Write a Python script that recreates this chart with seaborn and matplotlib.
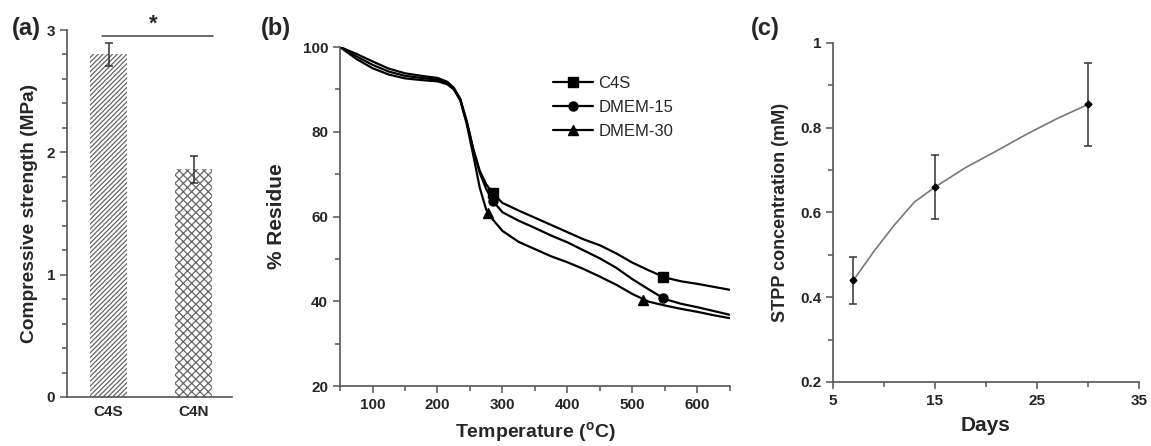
import numpy as np
import pandas as pd
import matplotlib
matplotlib.use("Agg")
import matplotlib.pyplot as plt
from matplotlib.lines import Line2D
from matplotlib.ticker import MultipleLocator
import seaborn as sns

# (a) compressive strength
samples = ["C4S", "C4N"]
strength = [2.80, 1.86]
strength_err = [0.095, 0.11]
hatches = ["///////", "xxxx"]
a_yticks = [0, 1, 2, 3]

# (b) TGA curves
temp = [50, 75, 100, 125, 150, 175, 200, 215, 225, 235, 245, 255, 265, 275, 285,
        300, 325, 350, 375, 400, 425, 450, 475, 500, 525, 550, 575, 600, 625, 650]
res_c4s = [100, 98.4, 96.6, 94.9, 93.8, 93.2, 92.7, 91.8, 90.4, 87.8, 82.5, 76.0, 70.8, 67.6, 65.5,
           63.2, 61.4, 59.7, 58.0, 56.3, 54.6, 53.2, 51.3, 49.1, 47.3, 45.6, 44.7, 44.1, 43.4, 42.7]
res_d15 = [100, 97.8, 95.8, 94.2, 93.2, 92.7, 92.3, 91.5, 90.2, 87.6, 82.3, 75.8, 70.3, 66.5, 63.7,
           61.0, 59.0, 57.3, 55.5, 53.9, 52.0, 50.1, 47.9, 45.2, 42.8, 40.5, 39.4, 38.6, 37.7, 36.8]
res_d30 = [100, 97.2, 95.0, 93.5, 92.6, 92.2, 91.9, 91.2, 90.0, 87.4, 81.8, 74.5, 66.8, 61.6, 59.3,
           56.6, 54.0, 52.3, 50.6, 49.2, 47.6, 45.8, 43.9, 41.7, 39.9, 39.0, 38.2, 37.5, 36.7, 36.0]
series_names = ["C4S", "DMEM-15", "DMEM-30"]
series_markers = ["s", "o", "^"]
mark_t = [[285, 547], [286, 547], [278, 516]]
mark_v = [[65.5, 45.8], [63.6, 40.7], [60.8, 40.3]]
b_xticks = [100, 200, 300, 400, 500, 600]
b_yticks = [20, 40, 60, 80, 100]

# (c) STPP release
days = [7, 15, 30]
stpp = [0.44, 0.66, 0.855]
stpp_err = [0.055, 0.075, 0.098]
curve_days = [7, 9, 11, 13, 15, 18, 21, 24, 27, 30]
curve_stpp = [0.44, 0.508, 0.57, 0.625, 0.66, 0.706, 0.745, 0.785, 0.822, 0.855]
c_xticks = [5, 15, 25, 35]
c_yticks = [0.2, 0.4, 0.6, 0.8, 1.0]
c_yticklabels = ["0.2", "0.4", "0.6", "0.8", "1"]

sns.set_style("ticks")
plt.rcParams["font.family"] = ["Liberation Sans", "DejaVu Sans"]
plt.rcParams["hatch.linewidth"] = 0.9
axcol = "#555555"
tick_fs = 11

fig = plt.figure(figsize=(11.51, 4.46), dpi=100)
ax_a = fig.add_axes([0.0582, 0.1099, 0.1434, 0.8228])
ax_b = fig.add_axes([0.2954, 0.1345, 0.3388, 0.7601])
ax_c = fig.add_axes([0.7237, 0.1435, 0.2659, 0.7601])

for ax in (ax_a, ax_b, ax_c):
    sns.despine(ax=ax)
    for s in ("left", "bottom"):
        ax.spines[s].set_color(axcol)
        ax.spines[s].set_linewidth(1.2)
    ax.tick_params(which="both", color=axcol, width=1.1)
    ax.tick_params(which="major", length=5)
    ax.tick_params(which="minor", length=3.5)

# ---- (a)
df_a = pd.DataFrame({"sample": samples, "strength": strength})
sns.barplot(data=df_a, x="sample", y="strength", color="white", width=0.43,
            errorbar=None, ax=ax_a)
for p, h in zip(ax_a.patches, hatches):
    p.set_hatch(h)
    p.set_edgecolor("#666666")
    p.set_linewidth(0)
ax_a.errorbar(range(len(samples)), strength, yerr=strength_err, fmt="none",
              ecolor="#333333", elinewidth=1.1, capsize=3, capthick=1.1)
ax_a.set_xlim(-0.49, 1.45)
ax_a.set_ylim(0, 3)
ax_a.set_xticks(range(len(samples)), labels=samples, fontweight="bold", fontsize=tick_fs)
ax_a.set_yticks(a_yticks, labels=[str(v) for v in a_yticks], fontweight="bold", fontsize=tick_fs)
ax_a.yaxis.set_minor_locator(MultipleLocator(0.2))
ax_a.tick_params(axis="x", length=0, pad=6)
ax_a.set_xlabel("")
ax_a.set_ylabel("Compressive strength (MPa)", fontsize=13.8, fontweight="bold", labelpad=6)
ax_a.plot([-0.076, 1.23], [2.95, 2.95], color="#444444", lw=1.1, clip_on=False)
ax_a.text(0.53, 2.96, "*", ha="center", va="bottom", fontsize=16, fontweight="bold", clip_on=False)

# ---- (b)
handles = []
for name, vals, mk, mt, mv in zip(series_names, [res_c4s, res_d15, res_d30],
                                  series_markers, mark_t, mark_v):
    sns.lineplot(x=temp, y=vals, color="black", lw=1.6, ax=ax_b, legend=False)
    ax_b.plot(mt, mv, ls="none", marker=mk, color="black", ms=6.5)
    handles.append(Line2D([], [], color="black", lw=1.6, marker=mk, ms=6.5, label=name))
ax_b.set_xlim(50, 650)
ax_b.set_ylim(20, 100)
ax_b.set_xticks(b_xticks, labels=[str(v) for v in b_xticks], fontweight="bold", fontsize=tick_fs)
ax_b.set_yticks(b_yticks, labels=[str(v) for v in b_yticks], fontweight="bold", fontsize=tick_fs)
ax_b.xaxis.set_minor_locator(MultipleLocator(50))
ax_b.yaxis.set_minor_locator(MultipleLocator(10))
ax_b.set_xlabel(r"Temperature ($^\mathregular{o}$C)", fontsize=14, fontweight="bold", labelpad=6)
ax_b.set_ylabel("% Residue", fontsize=15, fontweight="bold", labelpad=12)
ax_b.legend(handles=handles, loc="upper left", bbox_to_anchor=(0.53, 0.935), frameon=False,
            prop={"size": 12, "weight": "normal"}, handlelength=2.4, handletextpad=0.3,
            labelspacing=0.55, borderaxespad=0)

# ---- (c)
sns.lineplot(x=curve_days, y=curve_stpp, color="#777777", lw=1.2, ax=ax_c, legend=False)
ax_c.errorbar(days, stpp, yerr=stpp_err, fmt="D", color="black", ms=3.5,
              ecolor="#333333", elinewidth=1.1, capsize=3, capthick=1.1)
ax_c.set_xlim(5, 35)
ax_c.set_ylim(0.2, 1)
ax_c.set_xticks(c_xticks, labels=[str(v) for v in c_xticks], fontweight="bold", fontsize=tick_fs)
ax_c.set_yticks(c_yticks, labels=c_yticklabels, fontweight="bold", fontsize=tick_fs)
ax_c.xaxis.set_minor_locator(MultipleLocator(5))
ax_c.yaxis.set_minor_locator(MultipleLocator(0.1))
ax_c.set_xlabel("Days", fontsize=15, fontweight="bold", labelpad=6)
ax_c.set_ylabel("STPP concentration (mM)", fontsize=13, fontweight="bold", labelpad=8)

# panel letters
for x, y, t in [(0.010, 0.935, "(a)"), (0.227, 0.935, "(b)"), (0.652, 0.935, "(c)")]:
    fig.text(x, y, t, fontsize=17, fontweight="bold", va="center")

fig.savefig("out.png", dpi=100)
